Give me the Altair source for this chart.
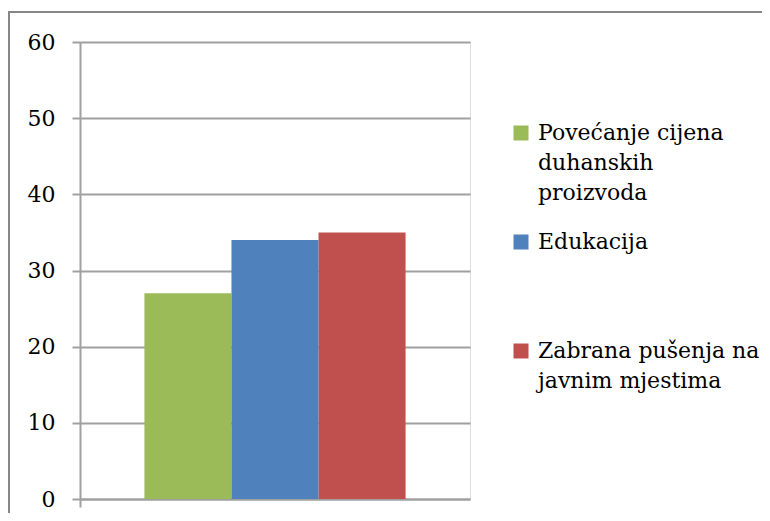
import json
import altair as alt
import pandas as pd

# ---- data ----
category = ["Mjere"]
series = [
    "Povećanje cijena duhanskih proizvoda",
    "Edukacija",
    "Zabrana pušenja na javnim mjestima",
]
legend_lines = [
    ["Povećanje cijena", "duhanskih", "proizvoda"],
    ["Edukacija", "", ""],
    ["Zabrana pušenja na", "javnim mjestima"],
]
values = [27, 34, 35]
colors = ["#9BBB59", "#4F81BD", "#C0504D"]
y_ticks = [0, 10, 20, 30, 40, 50, 60]

df = pd.DataFrame({"cat": category * len(series), "series": series, "value": values})

label_expr = ""
for s, lines in zip(series, legend_lines):
    label_expr += f"datum.label == {json.dumps(s, ensure_ascii=False)} ? {json.dumps(lines, ensure_ascii=False)} : "
label_expr += "datum.label"

GRID = "#a0a0a0"
FRAME = "#878787"
AXIS_FONT = "DejaVu Serif"
LEG_FONT = "DejaVu Serif"

bars = alt.Chart(df).mark_bar().encode(
    x=alt.X(
        "cat:N",
        title=None,
        scale=alt.Scale(paddingInner=0, paddingOuter=0),
        axis=alt.Axis(labels=False, ticks=True, tickSize=8, bandPosition=0,
                      tickColor=GRID, tickWidth=2, domainColor=GRID, domainWidth=2,
                      grid=False),
    ),
    xOffset=alt.XOffset("series:N", scale=alt.Scale(domain=series, paddingInner=0, paddingOuter=0.74)),
    y=alt.Y(
        "value:Q",
        title=None,
        scale=alt.Scale(domain=[0, 60]),
        axis=alt.Axis(values=y_ticks, tickSize=8, tickColor=GRID, tickWidth=2,
                      domainColor=GRID, domainWidth=2, gridColor=GRID, gridWidth=2,
                      labelFont=AXIS_FONT, labelFontSize=22, labelColor="#000000",
                      labelPadding=17),
    ),
    color=alt.Color(
        "series:N",
        scale=alt.Scale(domain=series, range=colors),
        legend=alt.Legend(
            title=None, orient="none", legendX=430, legendY=80,
            symbolType="square", symbolSize=225, symbolStrokeWidth=0, symbolOpacity=1,
            labelFont=LEG_FONT, labelFontSize=22, labelColor="#000000",
            labelOffset=6, labelLimit=400, rowPadding=27,
            labelExpr=label_expr,
        ),
    ),
)

frame_df = pd.DataFrame({"f": [0]})
frame_left = alt.Chart(frame_df).mark_rule(stroke=FRAME, strokeWidth=2, clip=False).encode(
    x=alt.value(-71), y=alt.value(-31), y2=alt.value(800)
)
frame_top = alt.Chart(frame_df).mark_rule(stroke=FRAME, strokeWidth=2, clip=False).encode(
    x=alt.value(-72), x2=alt.value(900), y=alt.value(-30)
)

chart = alt.layer(frame_left, frame_top, bars).properties(
    width=390, height=457,
    autosize=alt.AutoSizeParams(type="none"),
    padding={"left": 72, "top": 34, "right": 292, "bottom": 14},
    background="white",
).configure_view(stroke=None).configure(
    style={"guide-label": {"lineHeight": 30}}
)

chart.save("out.html", embed_options={"renderer": "svg", "actions": False})
